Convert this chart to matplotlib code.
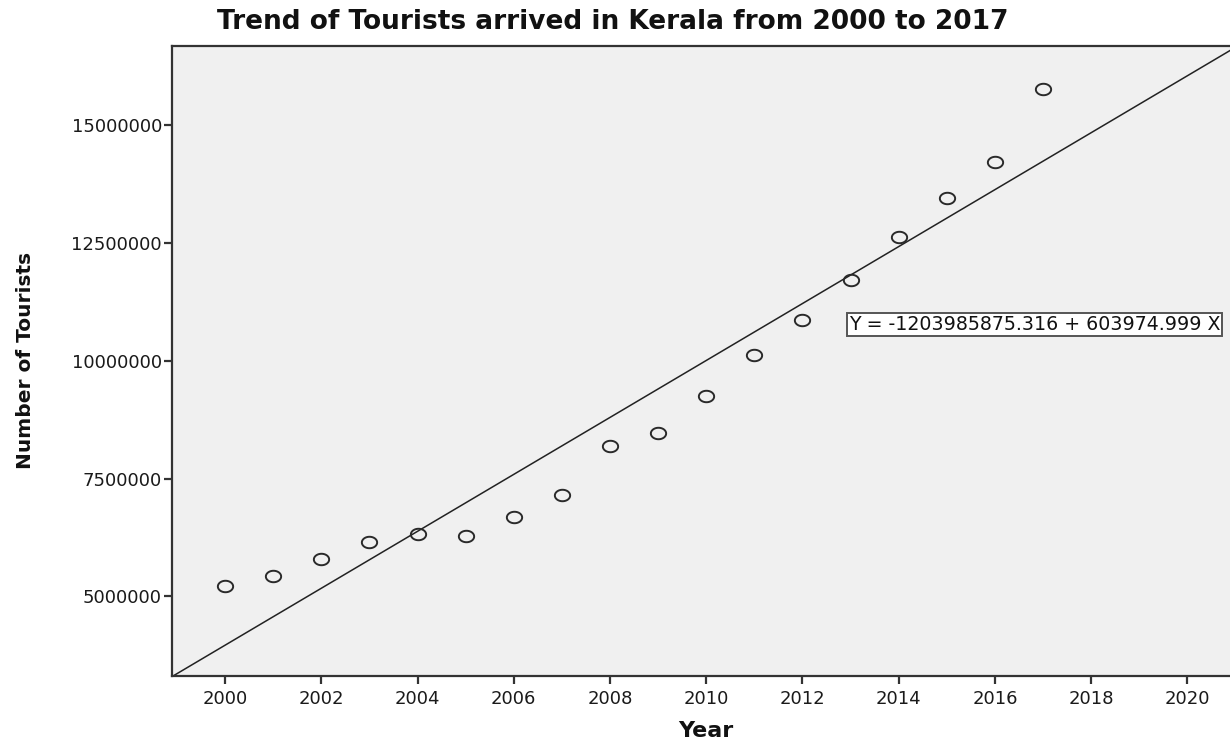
import numpy as np
import matplotlib
matplotlib.use("Agg")
import matplotlib.pyplot as plt
from matplotlib.path import Path

# data
years = [2000, 2001, 2002, 2003, 2004, 2005, 2006, 2007, 2008,
         2009, 2010, 2011, 2012, 2013, 2014, 2015, 2016, 2017]
tourists = [5210000, 5440000, 5800000, 6160000, 6330000, 6280000,
            6690000, 7150000, 8180000, 8460000, 9240000, 10110000,
            10860000, 11710000, 12620000, 13450000, 14210000, 15760000]
fit_intercept = -1203985875.316
fit_slope = 603974.999
x_ticks = [2000, 2002, 2004, 2006, 2008, 2010, 2012, 2014, 2016, 2018, 2020]
y_ticks = [5000000, 7500000, 10000000, 12500000, 15000000]

title = "Trend of Tourists arrived in Kerala from 2000 to 2017"
eq_text = "Y = -1203985875.316 + 603974.999 X"

fig = plt.figure(figsize=(12.3, 7.41), dpi=100)
ax = fig.add_axes([0.1396, 0.0877, 0.8625, 0.8502])
ax.set_facecolor("#f0f0f0")

xlim = (1998.89, 2020.94)
ax.set_xlim(*xlim)
ax.set_ylim(3310000, 16675000)

# fit line across the full x range
xs = np.array(xlim)
ax.plot(xs, fit_intercept + fit_slope * xs, color="#222222", lw=1.1, zorder=2)

# slightly flattened open circles, like the SPSS markers
t = np.linspace(0, 2 * np.pi, 60)
ellipse = Path(np.column_stack([np.cos(t), 0.75 * np.sin(t)]), closed=True)
ax.plot(years, tourists, linestyle="none", marker=ellipse, markersize=11,
        markerfacecolor="none", markeredgecolor="#2a2a2a", markeredgewidth=1.4,
        zorder=3)

ax.set_xticks(x_ticks)
ax.set_yticks(y_ticks)
ax.set_xticklabels([str(v) for v in x_ticks])
ax.set_yticklabels([str(v) for v in y_ticks])
ax.tick_params(axis="both", direction="out", length=6, width=1.6,
               color="#333333", labelcolor="#1a1a1a", labelsize=13)
ax.tick_params(axis="y", pad=1)
ax.tick_params(axis="x", pad=4)

for side in ["left", "bottom", "top"]:
    ax.spines[side].set_color("#333333")
    ax.spines[side].set_linewidth(1.6)
ax.spines["right"].set_visible(False)

ax.text(0.638, 0.558, eq_text, transform=ax.transAxes, ha="left", va="center",
        fontsize=13.7, color="#111111",
        bbox=dict(boxstyle="square,pad=0.1", facecolor="white",
                  edgecolor="#555555", linewidth=1.4))

fig.text(0.498, 0.961, title, ha="center", va="baseline",
         fontsize=19, fontweight="bold", color="#111111")
fig.text(0.574, 0.0054, "Year", ha="center", va="baseline",
         fontsize=16, fontweight="bold", color="#111111")
fig.text(0.021, 0.513, "Number of Tourists", rotation=90, ha="center",
         va="center", fontsize=14.5, fontweight="bold", color="#111111",
         family=["Liberation Sans Narrow", "DejaVu Sans Condensed", "DejaVu Sans"])

fig.savefig("out.png", dpi=100)
